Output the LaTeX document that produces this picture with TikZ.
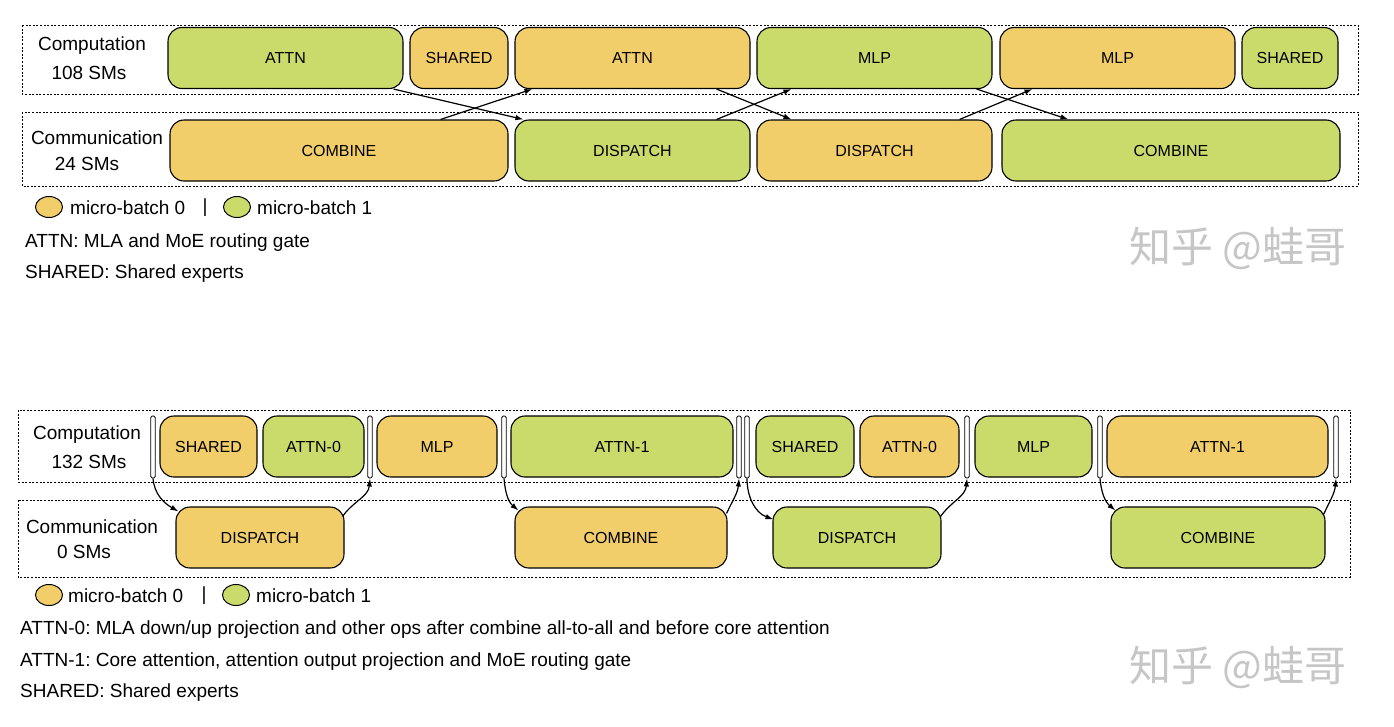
\documentclass[tikz,border=0pt]{standalone}
\usepackage{fontspec}
\setmainfont{Liberation Sans}
\newfontfamily\cjkfont{Noto Sans CJK SC}
\usetikzlibrary{shapes.geometric,arrows.meta}
\definecolor{mbzero}{RGB}{242,206,107}
\definecolor{mbone}{RGB}{203,219,107}
\frenchspacing

\begin{document}
\begin{tikzpicture}[x=1pt,y=-1pt,
  blk/.style={draw,line width=1.1pt,rounded corners=14pt,minimum height=61pt,inner sep=0pt,font=\fontsize{16}{19}\selectfont},
  orng/.style={blk,fill=mbzero},
  grn/.style={blk,fill=mbone},
  lane/.style={line width=0.9pt,dash pattern=on 2pt off 1.6pt},
  bar/.style={draw,fill=white,line width=0.9pt,rounded corners=1.5pt,minimum width=4.5pt,minimum height=62pt,inner sep=0pt},
  lbl/.style={font=\fontsize{19}{22}\selectfont,inner sep=0pt},
  note/.style={lbl,anchor=west},
  legdot/.style={ellipse,draw,line width=1pt,minimum width=27pt,minimum height=21pt,inner sep=0pt},
  flow/.style={line width=1.2pt,-{Latex[length=8pt,width=5.5pt]}},
  wmark/.style={font=\cjkfont\fontsize{42}{44}\selectfont,text=gray!45}]

  \useasboundingbox (0,0) rectangle (1394,726);

  % ---- top: 108 / 24 SMs
  \draw[lane] (22,25) rectangle (1358,94);
  \draw[lane] (22,112) rectangle (1358,186);
  \node[lbl] (tcomp) at (92,46) {Computation};
  \node[lbl] (tcompn) at (89,73) {108 SMs};
  \node[lbl] (tcomm) at (97,138) {Communication};
  \node[lbl] (tcommn) at (87,164) {24 SMs};

  \node[grn, minimum width=235pt] (attn1) at (285.5,58) {ATTN};
  \node[orng,minimum width=98pt]  (shr0)  at (459,58) {SHARED};
  \node[orng,minimum width=235pt] (attn0) at (632.5,58) {ATTN};
  \node[grn, minimum width=235pt] (mlp1)  at (874.5,58) {MLP};
  \node[orng,minimum width=235pt] (mlp0)  at (1117.5,58) {MLP};
  \node[grn, minimum width=96pt]  (shr1)  at (1290,58) {SHARED};

  \node[orng,minimum width=338pt] (comb0) at (339,150.5) {COMBINE};
  \node[grn, minimum width=235pt] (disp1) at (632.5,150.5) {DISPATCH};
  \node[orng,minimum width=235pt] (disp0) at (874.5,150.5) {DISPATCH};
  \node[grn, minimum width=338pt] (comb1) at (1171,150.5) {COMBINE};

  \draw[flow] ([xshift=-10pt]attn1.south east) -- ([xshift=9pt]disp1.north west);
  \draw[flow] ([xshift=-68pt]comb0.north east) -- ([xshift=18pt]attn0.south west);
  \draw[flow] ([xshift=-34pt]attn0.south east) -- ([xshift=35pt]disp0.north west);
  \draw[flow] ([xshift=-34pt]disp1.north east) -- ([xshift=35pt]mlp1.south west);
  \draw[flow] ([xshift=-16pt]mlp1.south east) -- ([xshift=67pt]comb1.north west);
  \draw[flow] ([xshift=-33pt]disp0.north east) -- ([xshift=33pt]mlp0.south west);

  \node[legdot,fill=mbzero] (tleg0) at (49,207) {};
  \node[note] (tleg0t) at (70,208) {micro-batch 0};
  \node[lbl] (tsep) at (205,208) {|};
  \node[legdot,fill=mbone] (tleg1) at (237,207) {};
  \node[note] (tleg1t) at (257,208) {micro-batch 1};
  \node[note] (tnote1) at (25,243) {ATTN: MLA and MoE routing gate};
  \node[note] (tnote2) at (25,274) {SHARED: Shared experts};
  \node[wmark] (twm) at (1238,248) {知乎 @蛙哥};

  % ---- bottom: 132 / 0 SMs
  \draw[lane] (18,410) rectangle (1350,482);
  \draw[lane] (18,500) rectangle (1350,577);
  \node[lbl] (bcomp) at (87,435) {Computation};
  \node[lbl] (bcompn) at (89,462) {132 SMs};
  \node[lbl] (bcomm) at (92,527) {Communication};
  \node[lbl] (bcommn) at (84,552) {0 SMs};

  \foreach \x [count=\i] in {153,370,504,739,747,967,1100,1336}
    \node[bar] (bar\i) at (\x,447) {};

  \node[orng,minimum width=97pt]  (op1) at (208.5,446.5) {SHARED};
  \node[grn, minimum width=101pt] (op2) at (313.5,446.5) {ATTN-0};
  \node[orng,minimum width=120pt] (op3) at (437,446.5) {MLP};
  \node[grn, minimum width=222pt] (op4) at (622,446.5) {ATTN-1};
  \node[grn, minimum width=98pt]  (op5) at (805,446.5) {SHARED};
  \node[orng,minimum width=99pt]  (op6) at (909.5,446.5) {ATTN-0};
  \node[grn, minimum width=117pt] (op7) at (1033.5,446.5) {MLP};
  \node[orng,minimum width=221pt] (op8) at (1217.5,446.5) {ATTN-1};

  \node[orng,minimum width=168pt] (cm1) at (260,537.5) {DISPATCH};
  \node[orng,minimum width=212pt] (cm2) at (621,537.5) {COMBINE};
  \node[grn, minimum width=168pt] (cm3) at (857,537.5) {DISPATCH};
  \node[grn, minimum width=214pt] (cm4) at (1218,537.5) {COMBINE};

  \draw[flow] (bar1.south) to[out=-85,in=150] ([shift={(3pt,-5pt)}]cm1.north west);
  \draw[flow] ([shift={(-2pt,-10pt)}]cm1.north east) to[out=55,in=-95] (bar2.south);
  \draw[flow] (bar3.south) to[out=-85,in=140] ([shift={(4pt,-4pt)}]cm2.north west);
  \draw[flow] ([shift={(-1pt,-7pt)}]cm2.north east) to[out=65,in=-95] (bar4.south);
  \draw[flow] (bar5.south) to[out=-90,in=160] ([shift={(1pt,-13pt)}]cm3.north west);
  \draw[flow] ([shift={(-1pt,-10pt)}]cm3.north east) to[out=55,in=-95] (bar6.south);
  \draw[flow] (bar7.south) to[out=-85,in=140] ([shift={(5pt,-4pt)}]cm4.north west);
  \draw[flow] ([shift={(-2pt,-8pt)}]cm4.north east) to[out=65,in=-95] (bar8.south);

  \node[legdot,fill=mbzero] (bleg0) at (49,595) {};
  \node[note] (bleg0t) at (68,596) {micro-batch 0};
  \node[lbl] (bsep) at (204,596) {|};
  \node[legdot,fill=mbone] (bleg1) at (236,595) {};
  \node[note] (bleg1t) at (256,596) {micro-batch 1};
  \node[note] (bnote1) at (20,630) {ATTN-0: MLA down/up projection and other ops after combine all-to-all and before core attention};
  \node[note] (bnote2) at (20,662) {ATTN-1: Core attention, attention output projection and MoE routing gate};
  \node[note] (bnote3) at (20,693) {SHARED: Shared experts};
  \node[wmark] (bwm) at (1238,667) {知乎 @蛙哥};
\end{tikzpicture}
\end{document}
